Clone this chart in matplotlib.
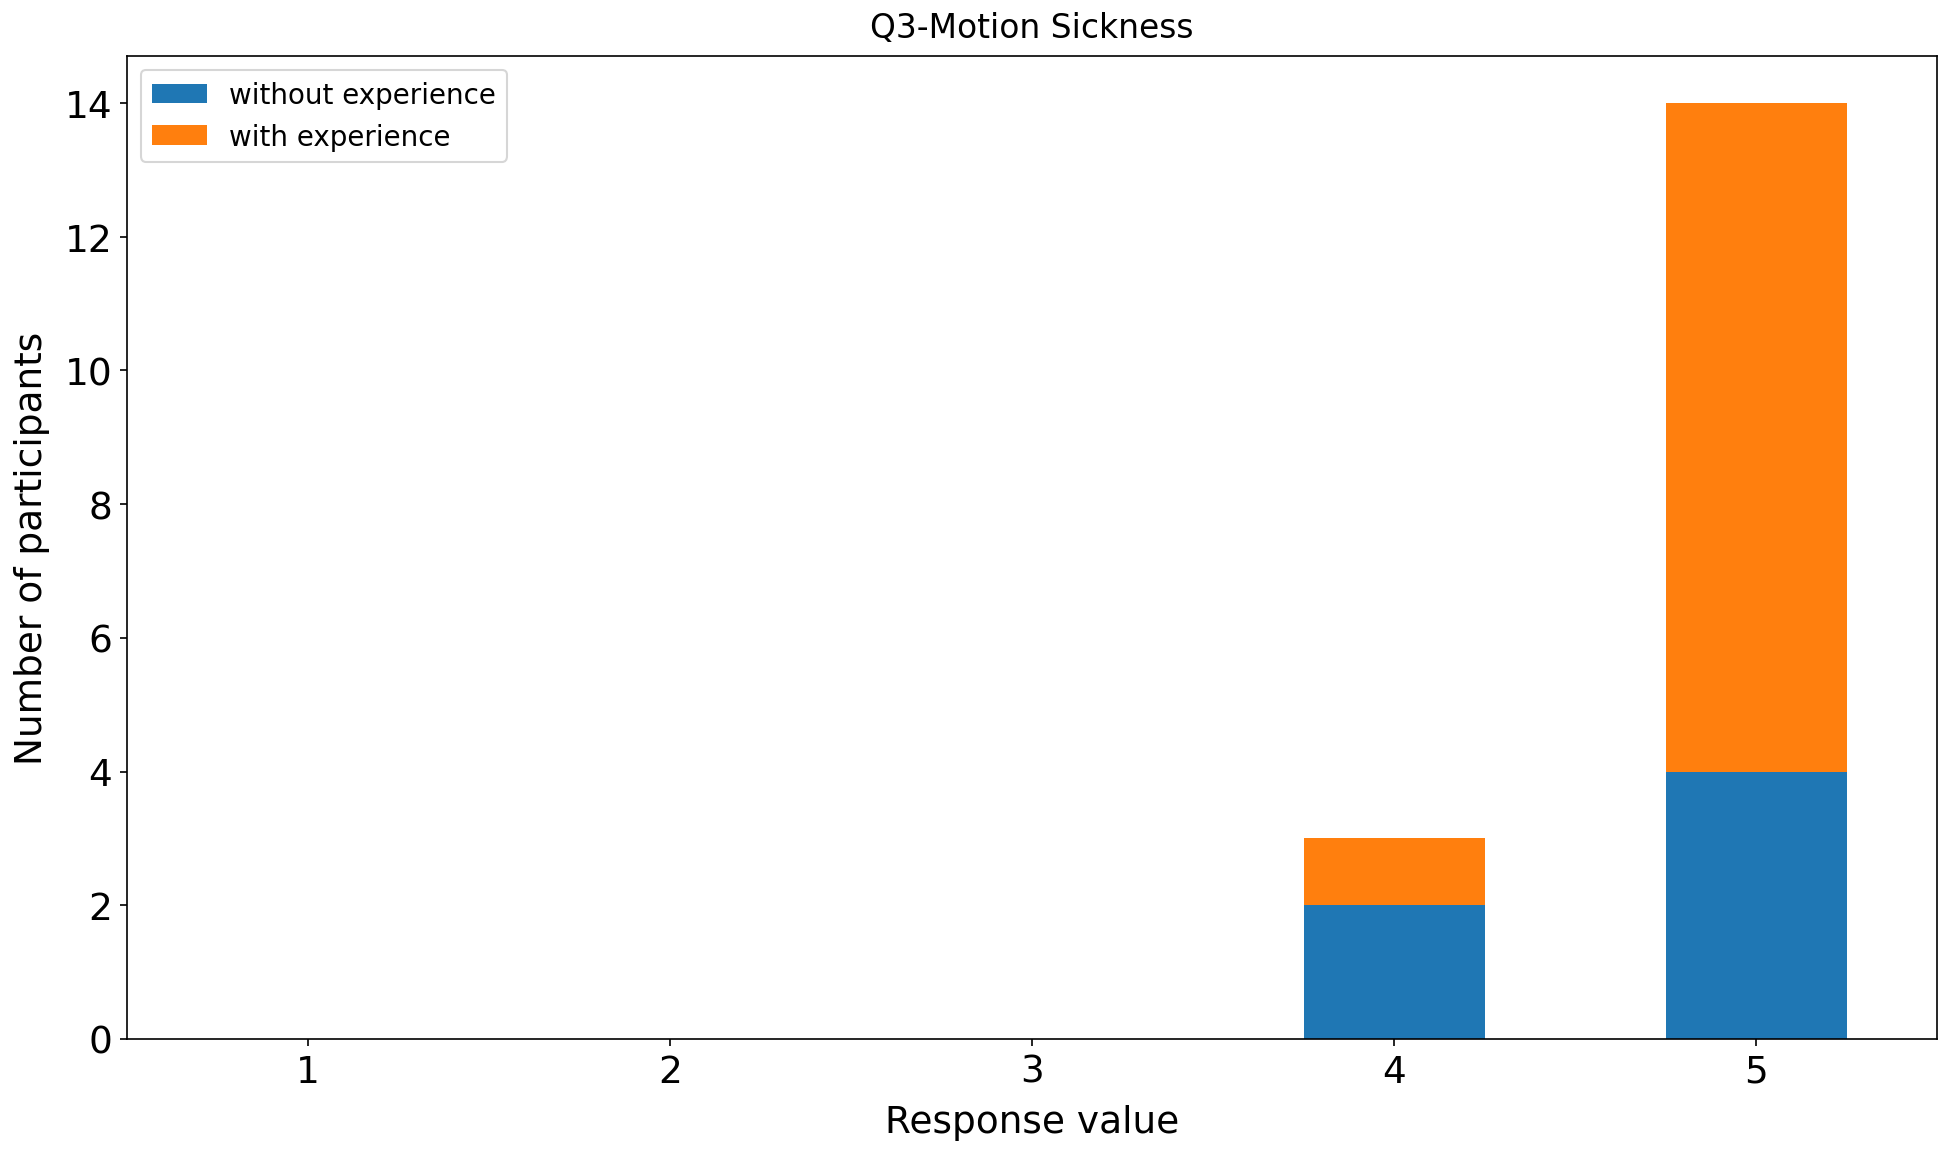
import matplotlib
matplotlib.use("Agg")
import matplotlib.pyplot as plt
import numpy as np

# --- Data ---
responses = [1, 2, 3, 4, 5]
without_exp = [0, 0, 0, 2, 4]
with_exp = [0, 0, 0, 1, 10]

fig, ax = plt.subplots(figsize=(13.02, 7.693), dpi=150)
fig.subplots_adjust(left=0.065, right=0.992, top=0.9506, bottom=0.0988)

x = np.array(responses)
ax.bar(x, without_exp, width=0.5, color="#1f77b4", label="without experience")
ax.bar(x, with_exp, width=0.5, bottom=without_exp, color="#ff7f0e", label="with experience")

ax.set_xlim(0.5, 5.5)
ax.set_xticks(x)
ax.tick_params(labelsize=18)
ax.set_title("Q3-Motion Sickness", fontsize=15.8, pad=9)
ax.set_xlabel("Response value", fontsize=18, labelpad=7)
ax.set_ylabel("Number of participants", fontsize=18, labelpad=7)
ax.legend(loc="upper left", fontsize=13.3)

fig.savefig("out.png")
